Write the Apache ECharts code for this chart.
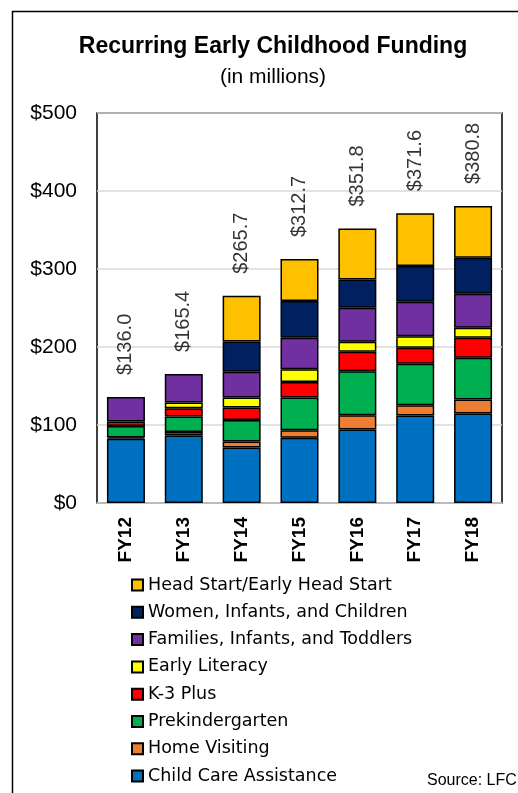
<!DOCTYPE html>
<html><head><meta charset="utf-8">
<script src="https://cdn.jsdelivr.net/npm/echarts@6/dist/echarts.min.js"></script>
<style>html,body{margin:0;padding:0;background:#fff}#c{width:518px;height:793px}</style>
</head><body><div id="c"></div>
<script>
const categories = ['FY12','FY13','FY14','FY15','FY16','FY17','FY18'];
const childCare   = [82.5, 86.6, 71.0, 83.7, 94.1, 112.1, 114.6];
const homeVisit   = [1.5, 4.5, 8.0, 9.7, 18.4, 13.2, 18.0];
const preK        = [14.6, 19.7, 27.4, 41.7, 56.4, 53.1, 53.5];
const k3Plus      = [6.0, 10.8, 16.0, 20.1, 24.9, 20.6, 25.7];
const earlyLit    = [null, 7.2, 12.8, 16.4, 12.9, 14.9, 12.8];
const fit         = [31.4, 36.6, 33.0, 40.3, 43.6, 44.1, 43.7];
const wic         = [null, null, 39.0, 47.2, 36.3, 45.7, 46.2];
const headStart   = [null, null, 58.5, 53.6, 65.2, 67.9, 66.3];
const totals      = [136.0, 165.4, 265.7, 312.7, 351.8, 371.6, 380.8];
const yTicks = [0, 100, 200, 300, 400, 500];

const seriesDefs = [
  ['Child Care Assistance', childCare, '#0070C0'],
  ['Home Visiting', homeVisit, '#ED7D31'],
  ['Prekindergarten', preK, '#00B050'],
  ['K-3 Plus', k3Plus, '#FF0000'],
  ['Early Literacy', earlyLit, '#FFFF00'],
  ['Families, Infants, and Toddlers', fit, '#7030A0'],
  ['Women, Infants, and Children', wic, '#002060'],
  ['Head Start/Early Head Start', headStart, '#FFC000']
];
const font = '"Liberation Sans", Arial, sans-serif';
const legendFont = '"DejaVu Sans", "Liberation Sans", sans-serif';
const series = seriesDefs.map(([name, data, color]) => ({
  name, type: 'bar', stack: 'all', data, barWidth: 38,
  itemStyle: {color, borderColor: '#000', borderWidth: 1.5},
  emphasis: {disabled: true}
}));
series.push({
  name: 'Total', type: 'scatter', data: totals, symbolSize: 0, z: 10,
  label: {show: true, position: 'top', distance: 22, rotate: 90, align: 'left', verticalAlign: 'middle',
    fontFamily: font, fontSize: 20, color: '#000',
    formatter: p => '$' + p.value.toFixed(1)}
});

const chart = echarts.init(document.getElementById('c'), null, {renderer: 'canvas'});
chart.setOption({
  animation: false,
  backgroundColor: '#fff',
  title: {
    text: 'Recurring Early Childhood Funding', subtext: '(in millions)',
    left: 268, textAlign: 'center', top: 30, itemGap: 9,
    textStyle: {fontFamily: font, fontWeight: 'bold', fontSize: 23, color: '#000'},
    subtextStyle: {fontFamily: font, fontSize: 21, color: '#000'}
  },
  graphic: [{type: 'rect', left: 10, top: 9, shape: {width: 600, height: 900},
    style: {fill: 'none', stroke: '#000', lineWidth: 1.5}, silent: true}],
  grid: {left: 97, right: 16, top: 113, bottom: 290, show: true, borderColor: '#000', borderWidth: 1.5},
  legend: {
    orient: 'vertical', left: 131, top: 575, padding: 0, itemWidth: 11, itemHeight: 11, itemGap: 7.3,
    icon: 'rect', selectedMode: false,
    data: seriesDefs.map(d => d[0]).reverse(),
    textStyle: {fontFamily: legendFont, fontSize: 17.5, color: '#000', lineHeight: 20}
  },
  xAxis: {
    type: 'category', data: categories,
    axisLine: {lineStyle: {color: '#bfbfbf', width: 1.5}},
    axisTick: {show: false},
    axisLabel: {rotate: 90, margin: 14, fontFamily: font, fontWeight: 'bold', fontSize: 19, color: '#000'}
  },
  yAxis: {
    type: 'value', min: 0, max: 500, interval: 100,
    axisLine: {show: false}, axisTick: {show: false},
    splitLine: {lineStyle: {color: '#d9d9d9', width: 1.5}},
    axisLabel: {margin: 20, fontFamily: font, fontSize: 21, color: '#000',
      formatter: v => yTicks.includes(v) ? '$' + v : ''}
  },
  series
});
</script>
<div style="position:absolute;left:427px;top:771px;font:16px 'Liberation Sans',Arial,sans-serif;color:#000;white-space:nowrap">Source: LFC</div>
</body></html>
